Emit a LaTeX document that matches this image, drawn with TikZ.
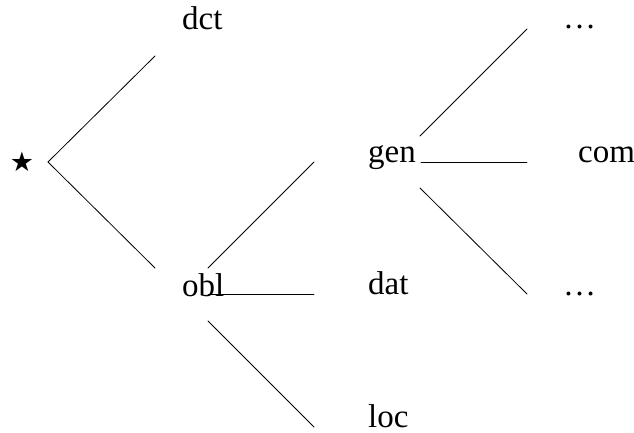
\documentclass[tikz,border=0pt]{standalone}
\usepackage{fontspec}
\setmainfont{Liberation Serif}
\newfontfamily\symbolfont{DejaVu Sans}
\begin{document}
\begin{tikzpicture}[x=1pt,y=-1pt,
  lbl/.style={anchor=base west, inner sep=0pt, font=\fontsize{33}{40}\selectfont},
  branch/.style={line width=0.8pt, line cap=round}]
\useasboundingbox (0,0) rectangle (634,433);

% labels
\node[inner sep=0pt, font=\fontsize{27}{32}\symbolfont] (star) at (22,162) {★};
\node[lbl] (dct)  at (182,30)  {dct};
\node[lbl] (obl)  at (182,296) {obl};
\node[lbl] (gen)  at (368,162) {gen};
\node[lbl] (dat)  at (368,294) {dat};
\node[lbl] (loc)  at (368,427) {loc};
\node[lbl] (up)   at (563,29)  {\ldots};
\node[lbl] (com)  at (578,162) {com};
\node[lbl] (down) at (563,295) {\ldots};

% branch end points
\coordinate (star-fork) at (48,162);
\coordinate (dct-in)    at (155,56);
\coordinate (obl-in)    at (155,268);
\coordinate (obl-up)    at (208,268);
\coordinate (obl-mid)   at (208,294);
\coordinate (obl-down)  at (208,321);
\coordinate (gen-in)    at (314,162);
\coordinate (dat-in)    at (314,294);
\coordinate (loc-in)    at (314,427);
\coordinate (gen-up)    at (420,136);
\coordinate (gen-mid)   at (421,162);
\coordinate (gen-down)  at (420,188);
\coordinate (up-in)     at (527,29);
\coordinate (com-in)    at (527,162);
\coordinate (down-in)   at (527,294);

% branches
\draw[branch] (dct-in) -- (star-fork) -- (obl-in);
\draw[branch] (obl-up) -- (gen-in);
\draw[branch] (obl-mid) -- (dat-in);
\draw[branch] (obl-down) -- (loc-in);
\draw[branch] (gen-up) -- (up-in);
\draw[branch] (gen-mid) -- (com-in);
\draw[branch] (gen-down) -- (down-in);
\end{tikzpicture}
\end{document}
